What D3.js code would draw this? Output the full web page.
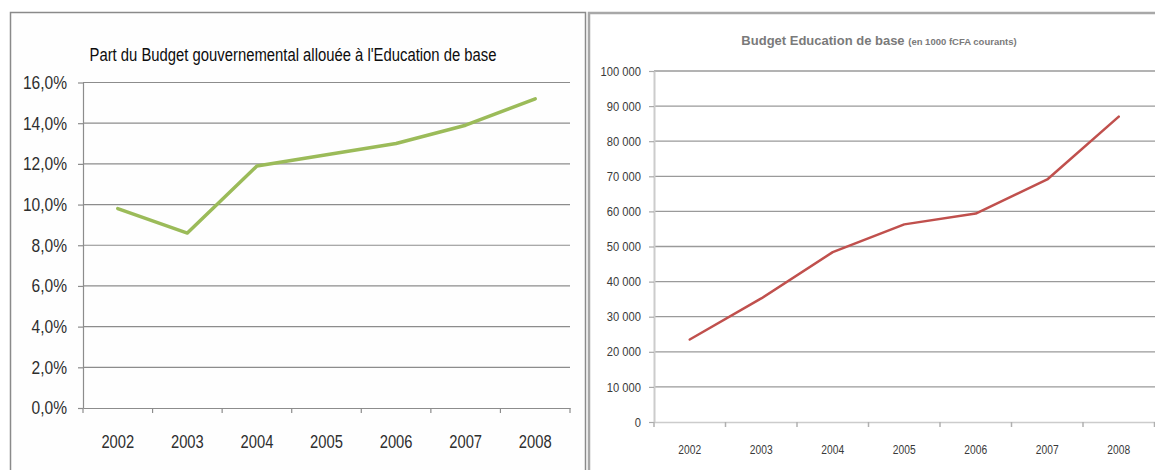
<!DOCTYPE html>
<html>
<head>
<meta charset="utf-8">
<script src="https://cdn.jsdelivr.net/npm/d3@7"></script>
<style>
  html, body { margin: 0; padding: 0; background: #ffffff; }
  svg { display: block; }
  text { font-family: "Liberation Sans", Arial, sans-serif; }
</style>
</head>
<body>
<svg id="chart" width="1155" height="470"></svg>
<script>
// ---- Data ----
const years = ["2002", "2003", "2004", "2005", "2006", "2007", "2008"];
// Part du Budget gouvernemental allouée à l'Education de base (%)
const partBudget = [9.8, 8.6, 11.9, 12.45, 13.0, 13.9, 15.2];
// Budget Education de base (en 1000 fCFA courants)
const budgetEduc = [23500, 35200, 48400, 56300, 59400, 69100, 87000];
const leftTicks = [0, 2, 4, 6, 8, 10, 12, 14, 16];
const rightTicks = [0, 10000, 20000, 30000, 40000, 50000, 60000, 70000, 80000, 90000, 100000];
const leftTitle = "Part du Budget gouvernemental allouée à l'Education de base";
const rightTitleMain = "Budget Education de base";
const rightTitleSub = "(en 1000 fCFA courants)";

const svg = d3.select("#chart");

// condense text horizontally (narrow-font look) while keeping it real text
function condense(sel, factor) {
  sel.each(function () {
    const w = this.getComputedTextLength();
    d3.select(this).attr("textLength", (w * factor).toFixed(1)).attr("lengthAdjust", "spacingAndGlyphs");
  });
}

// ---- Panel frames ----
svg.append("rect").attr("x", 10.5).attr("y", 12.5).attr("width", 575).attr("height", 470)
  .attr("fill", "#fefefe").attr("stroke", "#8a8a8a").attr("stroke-width", 1.5);
svg.append("rect").attr("x", 589).attr("y", 13).attr("width", 600).attr("height", 470)
  .attr("fill", "#ffffff").attr("stroke", "#a8a8a8").attr("stroke-width", 2.5);

// ================= LEFT CHART =================
const L = { x0: 83, x1: 570, y0: 408, y1: 82.5 };
const xL = d3.scaleBand().domain(years).range([L.x0, L.x1]).padding(0);
const yL = d3.scaleLinear().domain([0, 16]).range([L.y0, L.y1]);
const fmtL = v => d3.format(".1f")(v).replace(".", ",") + "%";

const gL = svg.append("g");
gL.append("g").selectAll("line").data(leftTicks.filter(d => d > 0)).join("line")
  .attr("x1", L.x0).attr("x2", L.x1)
  .attr("y1", d => yL(d)).attr("y2", d => yL(d))
  .attr("stroke", "#8c8c8c").attr("stroke-width", 1.2);

const yAxisL = gL.append("g").attr("transform", `translate(${L.x0},0)`)
  .call(d3.axisLeft(yL).tickValues(leftTicks).tickFormat(fmtL).tickSizeInner(5).tickSizeOuter(0).tickPadding(11));
yAxisL.select(".domain").attr("stroke", "#8c8c8c").attr("stroke-width", 1.2);
yAxisL.selectAll(".tick line").attr("stroke", "#8c8c8c").attr("stroke-width", 1.2);
yAxisL.selectAll(".tick text").attr("fill", "#2e2e2e").style("font-size", "18.5px")
  .style("font-family", "'Liberation Sans', Arial, sans-serif");
condense(yAxisL.selectAll(".tick text"), 0.84);

const xAxisL = gL.append("g").attr("transform", `translate(0,${L.y0})`)
  .call(d3.axisBottom(xL).tickSize(0).tickPadding(0));
xAxisL.select(".domain").attr("stroke", "#8c8c8c").attr("stroke-width", 1.2);
xAxisL.selectAll(".tick text").attr("fill", "#2e2e2e").attr("y", 40).attr("dy", 0)
  .style("font-size", "18px")
  .style("font-family", "'Liberation Sans', Arial, sans-serif");
condense(xAxisL.selectAll(".tick text"), 0.82);
gL.append("g").selectAll("line").data(d3.range(years.length + 1)).join("line")
  .attr("x1", i => L.x0 + i * xL.bandwidth()).attr("x2", i => L.x0 + i * xL.bandwidth())
  .attr("y1", L.y0).attr("y2", L.y0 + 5)
  .attr("stroke", "#8c8c8c").attr("stroke-width", 1.2);

gL.append("path")
  .datum(partBudget)
  .attr("fill", "none").attr("stroke", "#9BBB59").attr("stroke-width", 3.5)
  .attr("stroke-linejoin", "round").attr("stroke-linecap", "round")
  .attr("d", d3.line().x((d, i) => xL(years[i]) + xL.bandwidth() / 2).y(d => yL(d)));

const tL = svg.append("text").attr("x", 293).attr("y", 61).attr("text-anchor", "middle")
  .attr("fill", "#0d0d0d").style("font-size", "17.5px")
  .text(leftTitle);
tL.attr("textLength", 407).attr("lengthAdjust", "spacingAndGlyphs");

// ================= RIGHT CHART =================
const R = { x0: 654, bw: 71.5, y0: 422, y1: 71 };
const xR = d3.scaleBand().domain(years).range([R.x0, R.x0 + R.bw * years.length]).padding(0);
const yR = d3.scaleLinear().domain([0, 100000]).range([R.y0, R.y1]);
const fmtR = d3.formatLocale({ decimal: ",", thousands: " ", grouping: [3], currency: ["", ""] }).format(",d");

const gR = svg.append("g");
gR.append("g").selectAll("line").data(rightTicks.filter(d => d > 0)).join("line")
  .attr("x1", R.x0).attr("x2", 1155)
  .attr("y1", d => yR(d)).attr("y2", d => yR(d))
  .attr("stroke", "#9a9a9a").attr("stroke-width", 1.3);

const yAxisR = gR.append("g").attr("transform", `translate(${R.x0},0)`)
  .call(d3.axisLeft(yR).tickValues(rightTicks).tickFormat(fmtR).tickSizeInner(5).tickSizeOuter(0).tickPadding(8));
yAxisR.select(".domain").attr("stroke", "#cccccc").attr("stroke-width", 2);
yAxisR.selectAll(".tick line").attr("stroke", "#aaaaaa").attr("stroke-width", 1.2);
yAxisR.selectAll(".tick text").attr("fill", "#3a3a3a").style("font-size", "13px")
  .style("font-family", "'Liberation Sans', Arial, sans-serif");
condense(yAxisR.selectAll(".tick text"), 0.86);

const xAxisR = gR.append("g").attr("transform", `translate(0,${R.y0})`)
  .call(d3.axisBottom(xR).tickSize(0).tickPadding(0));
xAxisR.select(".domain").attr("stroke", "#cccccc").attr("stroke-width", 1.5);
xAxisR.selectAll(".tick text").attr("fill", "#3a3a3a").attr("y", 32).attr("dy", 0)
  .style("font-size", "12.5px")
  .style("font-family", "'Liberation Sans', Arial, sans-serif");
condense(xAxisR.selectAll(".tick text"), 0.82);
gR.append("g").selectAll("line").data(d3.range(years.length + 1)).join("line")
  .attr("x1", i => R.x0 + i * xR.bandwidth()).attr("x2", i => R.x0 + i * xR.bandwidth())
  .attr("y1", R.y0).attr("y2", R.y0 + 5)
  .attr("stroke", "#b0b0b0").attr("stroke-width", 1.5);

gR.append("path")
  .datum(budgetEduc)
  .attr("fill", "none").attr("stroke", "#C0504D").attr("stroke-width", 2.5)
  .attr("stroke-linejoin", "round").attr("stroke-linecap", "round")
  .attr("d", d3.line().x((d, i) => xR(years[i]) + xR.bandwidth() / 2).y(d => yR(d)));

const tR = svg.append("text").attr("x", 879).attr("y", 45).attr("text-anchor", "middle")
  .attr("fill", "#7a7a7a").style("font-weight", "bold");
tR.append("tspan").style("font-size", "13px").text(rightTitleMain + " ");
tR.append("tspan").style("font-size", "9.5px").text(rightTitleSub);
</script>
</body>
</html>
